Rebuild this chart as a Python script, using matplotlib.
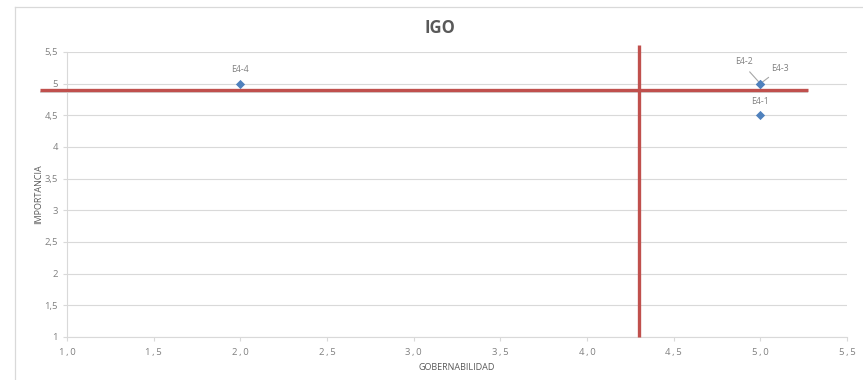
import matplotlib
matplotlib.use("Agg")
import matplotlib.pyplot as plt
from matplotlib.lines import Line2D

# Variables: gobernabilidad (x) vs importancia (y)
labels = ["E4-1", "E4-2", "E4-3", "E4-4"]
gobernabilidad = [5.0, 5.0, 5.0, 2.0]
importancia = [4.5, 5.0, 5.0, 5.0]

# Quadrant dividers
x_cut = 4.3
y_cut = 4.9

x_ticks = [1.0, 1.5, 2.0, 2.5, 3.0, 3.5, 4.0, 4.5, 5.0, 5.5]
x_ticklabels = ["1\u2009,\u20090", "1\u2009,\u20095", "2\u2009,\u20090", "2\u2009,\u20095",
                "3\u2009,\u20090", "3\u2009,\u20095", "4\u2009,\u20090", "4\u2009,\u20095",
                "5\u2009,\u20090", "5\u2009,\u20095"]
y_ticks = [1, 1.5, 2, 2.5, 3, 3.5, 4, 4.5, 5, 5.5]
y_ticklabels = ["1", "1,5", "2", "2,5", "3", "3,5", "4", "4,5", "5", "5,5"]

plt.rcParams["font.family"] = ["Open Sans", "DejaVu Sans"]

W, H = 863, 380
fig = plt.figure(figsize=(W / 100, H / 100), dpi=100)
ax = fig.add_axes([67 / W, 1 - 337 / H, (847 - 67) / W, (337 - 52) / H])

grid_c = "#d9d9d9"
text_c = "#808080"

ax.set_xlim(1.0, 5.5)
ax.set_ylim(1, 5.5)
ax.set_xticks(x_ticks)
ax.set_xticklabels(x_ticklabels)
ax.set_yticks(y_ticks)
ax.set_yticklabels(y_ticklabels)
ax.yaxis.grid(True, color=grid_c, linewidth=0.8)
ax.set_axisbelow(True)
for s in ["top", "right"]:
    ax.spines[s].set_visible(False)
for s in ["left", "bottom"]:
    ax.spines[s].set_color(grid_c)
    ax.spines[s].set_linewidth(0.8)
ax.tick_params(axis="both", colors=grid_c, labelcolor=text_c, labelsize=6.8,
               length=3, width=0.8)
ax.tick_params(axis="x", pad=5)

# Quadrant lines with a soft shadow
ax.plot([0.845, 5.275], [y_cut - 0.03, y_cut - 0.03], color="#a6a6a6", lw=1.4,
        alpha=0.45, clip_on=False, zorder=2, solid_capstyle="butt")
ax.plot([0.845, 5.275], [y_cut, y_cut], color="#c0504d", lw=2.4,
        clip_on=False, zorder=3, solid_capstyle="butt")
ax.plot([x_cut, x_cut], [1.0, 5.61], color="#c0504d", lw=2.4,
        clip_on=False, zorder=3, solid_capstyle="butt")

ax.scatter(gobernabilidad, importancia, marker="D", s=22, color="#4f81bd",
           zorder=4, linewidths=0)

# Point labels
offsets = {"E4-1": (0, 10), "E4-4": (0, 10), "E4-2": (-11.5, 16), "E4-3": (14, 11)}
shrink = {"E4-2": 3, "E4-3": 2}
for lab, gx, iy in zip(labels, gobernabilidad, importancia):
    dx, dy = offsets[lab]
    if lab in shrink:
        ax.annotate(lab, (gx, iy), xytext=(dx, dy), textcoords="offset points",
                    ha="center", va="center", fontsize=6.3, color=text_c,
                    arrowprops=dict(arrowstyle="-", color="#a6a6a6", lw=0.8,
                                    shrinkA=shrink[lab], shrinkB=2,
                                    relpos=(0.2, 0.0) if lab == "E4-3" else (0.5, 0.0)))
    else:
        ax.annotate(lab, (gx, iy), xytext=(dx, dy), textcoords="offset points",
                    ha="center", va="center", fontsize=6.3, color=text_c)

ax.set_xlabel("GOBERNABILIDAD", fontsize=6.5, color="#595959", labelpad=4)
ax.set_ylabel("IMPORTANCIA", fontsize=6.5, color="#595959", labelpad=1)
fig.text(440 / W, 1 - 28 / H, "IGO", ha="center", va="center", fontsize=12,
         fontweight="bold", color="#595959")

# Chart frame
fig.add_artist(Line2D([15 / W, 15 / W], [0, 1 - 7 / H], color=grid_c, lw=0.9))
fig.add_artist(Line2D([15 / W, 1], [1 - 7 / H, 1 - 7 / H], color=grid_c, lw=0.9))

fig.savefig("out.png", dpi=100, facecolor="white")
